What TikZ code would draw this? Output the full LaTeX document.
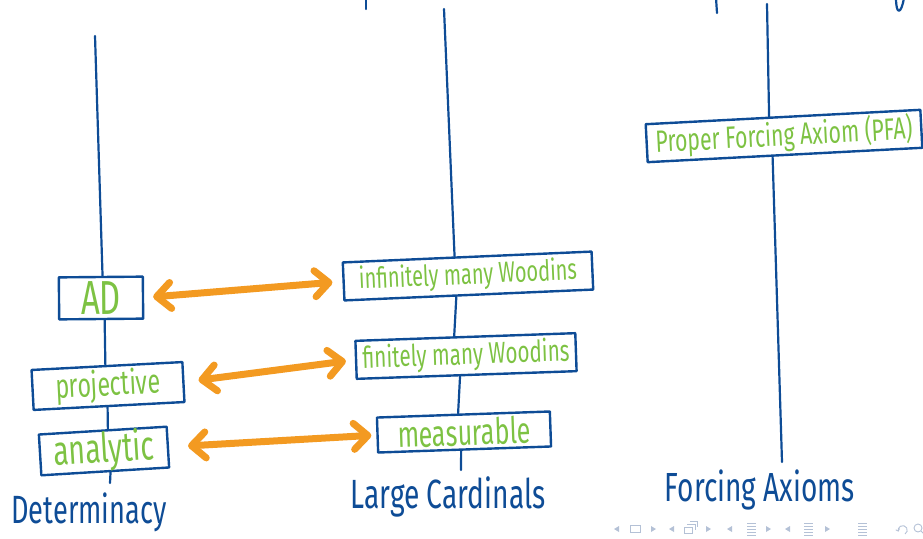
\documentclass[tikz,border=0pt]{standalone}
\usepackage{graphicx}
\usepackage{fontspec}
\setmainfont{Fira Sans}
\usetikzlibrary{arrows.meta,calc}
\definecolor{inkblue}{HTML}{0E4C96}
\definecolor{inkgreen}{HTML}{7DC243}
\definecolor{inkorange}{HTML}{F39A21}
\definecolor{navgrey}{HTML}{B4C1D6}
\newcommand{\fitw}[2]{\resizebox{#1}{!}{\scalebox{1}[1.45]{#2}}}
\begin{document}
\begin{tikzpicture}[x=1pt,y=-1pt,
  ink/.style={draw=inkblue, line width=2.2pt, line cap=round, line join=round},
  box/.style={draw=inkblue, line width=2.4pt, line join=round, rectangle, inner sep=0pt, text=inkgreen, font=\Large},
  biarrow/.style={draw=inkorange, line width=7pt, line cap=round,
     {Straight Barb[length=14pt, width=26pt, line cap=round, line join=round]}-{Straight Barb[length=14pt, width=26pt, line cap=round, line join=round]}},
  title/.style={text=inkblue, font=\Large, inner sep=0pt},
  nav/.style={fill=navgrey, draw=none},
  navline/.style={draw=navgrey, line width=0.9pt}]
\useasboundingbox (0,0) rectangle (923,538);

% boxes
\node[box, rotate=0.5, minimum width=84pt, minimum height=42pt] (AD) at (101,298) {\fitw{40pt}{AD}};
\node[box, rotate=3, minimum width=151pt, minimum height=40pt] (proj) at (108,386) {\fitw{105pt}{projective}};
\node[box, rotate=3.5, minimum width=128pt, minimum height=34pt] (ana) at (104,451) {\fitw{101pt}{analytic}};
\node[box, rotate=2.5, minimum width=249pt, minimum height=38pt] (inf) at (468,276) {\fitw{218pt}{infinitely many Woodins}};
\node[box, rotate=2, minimum width=220pt, minimum height=38pt] (fin) at (466,356) {\fitw{207pt}{finitely many Woodins}};
\node[box, rotate=2, minimum width=173pt, minimum height=35pt] (meas) at (464,432) {\fitw{133pt}{measurable}};
\node[box, rotate=3, minimum width=275pt, minimum height=38pt] (pfa) at (784,136) {\fitw{257pt}{Proper Forcing Axiom (PFA)}};

% titles
\node[title] (det) at (89,512) {\fitw{155pt}{Determinacy}};
\node[title] (lc) at (448,497) {\fitw{195pt}{Large Cardinals}};
\node[title] (fa) at (760,490) {\fitw{190pt}{Forcing Axioms}};

% column lines
\coordinate (dtop) at (95,36);
\coordinate (dbot) at (110,483);
\coordinate (ltop) at (444,9);
\coordinate (lbot) at (461,470);
\coordinate (ftop) at (767,4);
\coordinate (fbot) at (782,462);
\draw[ink] (dtop) -- ($(AD.north west)!0.52!(AD.north east)$);
\draw[ink] ($(AD.south west)!0.54!(AD.south east)$) -- ($(proj.north west)!0.49!(proj.north east)$);
\draw[ink] ($(proj.south west)!0.49!(proj.south east)$) -- ($(ana.north west)!0.54!(ana.north east)$);
\draw[ink] ($(ana.south west)!0.54!(ana.south east)$) -- (dbot);
\draw[ink] (ltop) -- ($(inf.north west)!0.45!(inf.north east)$);
\draw[ink] ($(inf.south west)!0.45!(inf.south east)$) -- ($(fin.north west)!0.45!(fin.north east)$);
\draw[ink] ($(fin.south west)!0.47!(fin.south east)$) -- ($(meas.north west)!0.47!(meas.north east)$);
\draw[ink] ($(meas.south west)!0.48!(meas.south east)$) -- (lbot);
\draw[ink] (ftop) -- ($(pfa.north west)!0.45!(pfa.north east)$);
\draw[ink] ($(pfa.south west)!0.455!(pfa.south east)$) -- (fbot);

% fragments at the top edge
\draw[ink] (366,-2) -- (366,9);
\draw[ink] (716,-2) -- (717,13);
\draw[ink] (896,-2) .. controls (896,15) and (901,15) .. (904,-2);

% orange double arrows
\draw[biarrow, shorten <=9pt, shorten >=10pt] (AD.east) -- (inf.west);
\draw[biarrow, shorten <=14pt, shorten >=9pt] (proj.east) -- (fin.west);
\draw[biarrow, shorten <=19pt, shorten >=5pt] (ana.east) -- (meas.west);

% beamer navigation symbols
\fill[nav] (619,526) -- (614,529) -- (619,532) -- cycle;
\draw[navline] (630,525.5) rectangle (640,532);
\fill[nav] (651,526) -- (656,529) -- (651,532) -- cycle;
\fill[nav] (674,526) -- (669,529) -- (674,532) -- cycle;
\draw[navline] (684,527) rectangle (692,533);
\draw[navline] (687,524) -- (695,524) -- (695,530);
\draw[navline] (690,521.5) -- (697,521.5) -- (697,527);
\fill[nav] (706,526) -- (711,529) -- (706,532) -- cycle;
\fill[nav] (732,526) -- (727,529) -- (732,532) -- cycle;
\foreach \yy in {523,526,529,532,535} \draw[navline] (747,\yy) -- (756,\yy);
\fill[nav] (766,526) -- (771,529) -- (766,532) -- cycle;
\fill[nav] (790,526) -- (785,529) -- (790,532) -- cycle;
\foreach \yy in {523,526,529,532,535} \draw[navline] (804,\yy) -- (813,\yy);
\fill[nav] (825,526) -- (830,529) -- (825,532) -- cycle;
\foreach \yy in {523,526,529,532,535} \draw[navline] (858,\yy) -- (867,\yy);
\draw[navline, -{Straight Barb[length=2pt,width=4pt]}] (905,534) arc[start angle=-60, end angle=200, radius=4.5pt];
\draw[navline] (918,528) circle[radius=4pt];
\draw[navline] (921,531) -- (924,534);
\end{tikzpicture}
\end{document}
